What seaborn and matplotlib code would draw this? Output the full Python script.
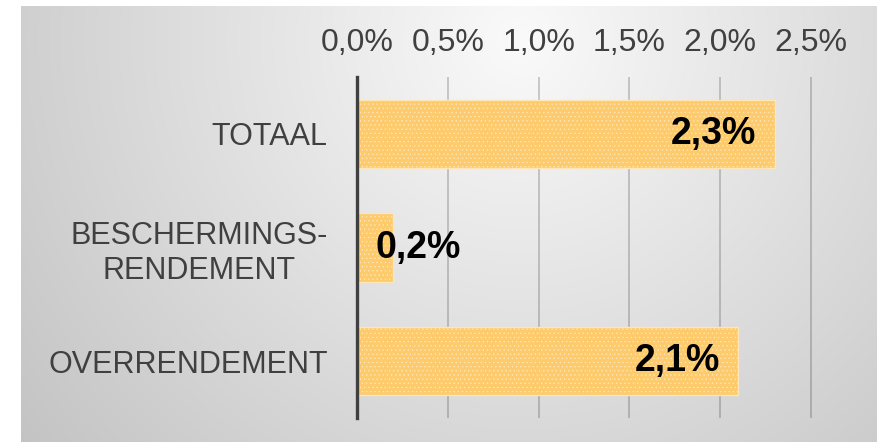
import numpy as np
import matplotlib
matplotlib.use("Agg")
import matplotlib.pyplot as plt
import seaborn as sns

# data
categories = ["TOTAAL", "BESCHERMINGS-\nRENDEMENT", "OVERRENDEMENT"]
values = [2.3, 0.2, 2.1]
value_labels = ["2,3%", "0,2%", "2,1%"]
xticks = [0.0, 0.5, 1.0, 1.5, 2.0, 2.5]
xtick_labels = ["0,0%", "0,5%", "1,0%", "1,5%", "2,0%", "2,5%"]

sns.set_style("white")
plt.rcParams['font.family'] = ['Liberation Sans', 'DejaVu Sans']
plt.rcParams['hatch.linewidth'] = 0.5

W, H = 878, 442
fig = plt.figure(figsize=(W / 100, H / 100), dpi=100)
fig.patch.set_facecolor("white")

# radial grey background panel
bg = fig.add_axes([21 / W, 0, (W - 21) / W, (H - 6) / H])
yy, xx = np.mgrid[6:H, 21:W]
d = np.hypot(xx - 520, yy - 40)
shade = np.clip(250 - 0.085 * d, 150, 250) / 255.0
bg.imshow(np.dstack([shade, shade, shade]), aspect="auto", interpolation="bilinear")
bg.set_axis_off()

# main bar axes
x0, x1 = 357, 357 + 2.52 * 181.6
top, bottom = 77, 418
ax = fig.add_axes([x0 / W, (H - bottom) / H, (x1 - x0) / W, (bottom - top) / H])
ax.set_facecolor("none")

sns.barplot(x=values, y=categories, orient="h", color="#FDCA6C",
            saturation=1, width=0.6, ax=ax, zorder=3)
for p in ax.patches:
    p.set_hatch("....")
    p.set_edgecolor("#FFE6B8")
    p.set_linewidth(1.0)

ax.set_xlim(0, 2.52)
ax.set_xticks(xticks)
ax.set_xticklabels(xtick_labels)
ax.xaxis.tick_top()
ax.tick_params(axis="x", length=0, pad=14, labelsize=23, labelcolor="#404040")
ax.tick_params(axis="y", length=0, pad=21, labelsize=22, labelcolor="#404040")
for lbl in ax.get_yticklabels():
    lbl.set_multialignment("center")
ax.set_xlabel("")
ax.set_ylabel("")

ax.grid(axis="x", color="black", alpha=0.2, linewidth=1.3, zorder=0)
ax.grid(axis="y", visible=False)
for s in ["top", "right", "bottom"]:
    ax.spines[s].set_visible(False)
ax.spines["left"].set_color("#404040")
ax.spines["left"].set_linewidth(2.4)
ax.spines["left"].set_zorder(5)

# value labels
for i, (v, lab) in enumerate(zip(values, value_labels)):
    if v < 0.5:
        ax.annotate(lab, xy=(0, i), xytext=(13, 0), textcoords="offset points",
                    ha="left", va="center", fontsize=27, fontweight="bold",
                    color="black", zorder=6)
    else:
        ax.annotate(lab, xy=(v, i), xytext=(-13, 0), textcoords="offset points",
                    ha="right", va="center", fontsize=27, fontweight="bold",
                    color="black", zorder=6)

fig.savefig("out.png", dpi=100, facecolor=fig.get_facecolor())
